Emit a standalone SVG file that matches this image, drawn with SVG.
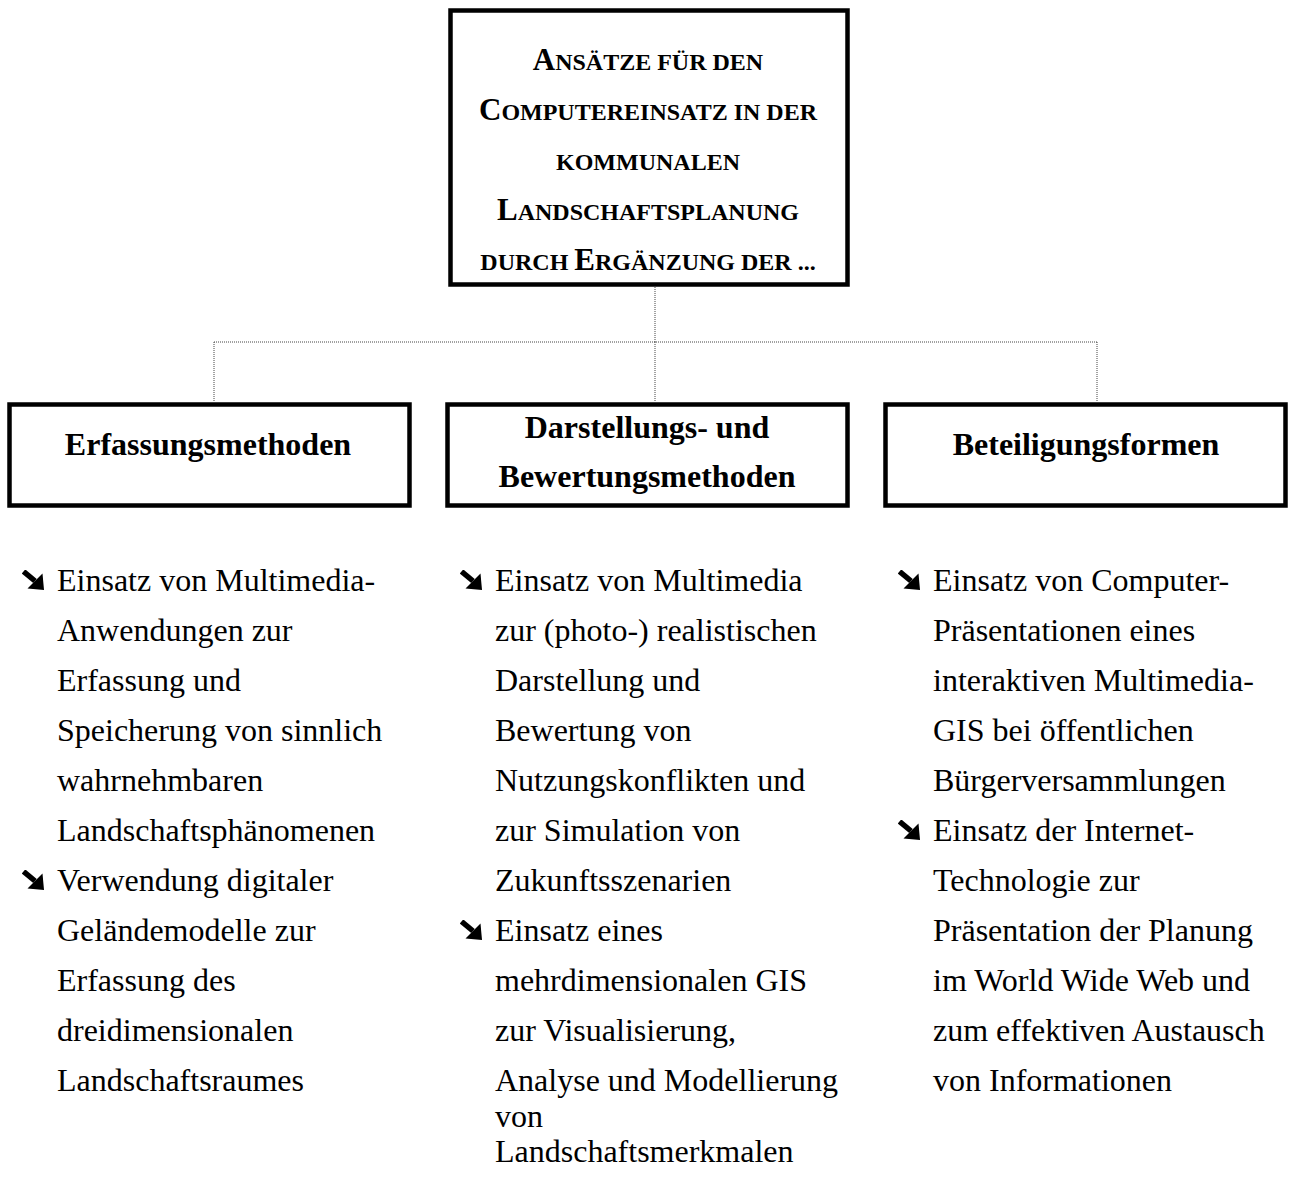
<svg xmlns="http://www.w3.org/2000/svg" xmlns:xlink="http://www.w3.org/1999/xlink" width="1294" height="1191" viewBox="0 0 1294 1191">
<style>
.box{fill:#fff;stroke:#000;stroke-width:4.5}
.conn{fill:none;stroke:#444;stroke-width:1;stroke-dasharray:1 1}
.title{font-family:"Liberation Serif","Times New Roman",serif;font-weight:bold;fill:#000}
.head{font-family:"Liberation Serif","Times New Roman",serif;font-weight:bold;font-size:32px;fill:#000;text-anchor:middle}
.body{font-family:"Liberation Serif","Times New Roman",serif;font-size:32px;fill:#000}
.sc{font-size:24px}
.cap{font-size:31px}
</style>
<defs>
<symbol id="arr" viewBox="0 0 22 20" width="22" height="20">
<line x1="1.5" y1="1.5" x2="13" y2="11" stroke="#000" stroke-width="5.5"/>
<polygon points="22,20 5.5,18.5 20.5,3.5" fill="#000"/>
</symbol>
</defs>
<rect width="1294" height="1191" fill="#fff"/>
<g id="connectors">
<line class="conn" x1="655" y1="287" x2="655" y2="342"/>
<line class="conn" x1="214" y1="342" x2="1097" y2="342"/>
<line class="conn" x1="214" y1="342" x2="214" y2="402"/>
<line class="conn" x1="655" y1="342" x2="655" y2="402"/>
<line class="conn" x1="1097" y1="342" x2="1097" y2="402"/>
</g>
<g id="node-top">
<rect class="box" x="450.5" y="10.5" width="397" height="274"/>
<text class="title" text-anchor="middle" x="648" y="70"><tspan class="cap">A</tspan><tspan class="sc">NSÄTZE FÜR DEN</tspan></text>
<text class="title" text-anchor="middle" x="648" y="120"><tspan class="cap">C</tspan><tspan class="sc">OMPUTEREINSATZ IN DER</tspan></text>
<text class="title" text-anchor="middle" x="648" y="170"><tspan class="sc">KOMMUNALEN</tspan></text>
<text class="title" text-anchor="middle" x="648" y="220"><tspan class="cap">L</tspan><tspan class="sc">ANDSCHAFTSPLANUNG</tspan></text>
<text class="title" text-anchor="middle" x="648" y="270"><tspan class="sc">DURCH </tspan><tspan class="cap">E</tspan><tspan class="sc">RGÄNZUNG DER ...</tspan></text>
</g>
<g id="node-erfassung">
<rect class="box" x="9.5" y="404.5" width="400" height="101"/>
<text class="head" x="208" y="455">Erfassungsmethoden</text>
</g>
<g id="node-darstellung">
<rect class="box" x="447.5" y="404.5" width="400" height="101"/>
<text class="head" x="647" y="438">Darstellungs- und</text>
<text class="head" x="647" y="487">Bewertungsmethoden</text>
</g>
<g id="node-beteiligung">
<rect class="box" x="885.5" y="404.5" width="400" height="101"/>
<text class="head" x="1086" y="455">Beteiligungsformen</text>
</g>
<g id="list-erfassung">
<use xlink:href="#arr" x="22" y="570"/>
<use xlink:href="#arr" x="22" y="870"/>
<text class="body" x="57" y="591">Einsatz von Multimedia-</text>
<text class="body" x="57" y="641">Anwendungen zur</text>
<text class="body" x="57" y="691">Erfassung und</text>
<text class="body" x="57" y="741">Speicherung von sinnlich</text>
<text class="body" x="57" y="791">wahrnehmbaren</text>
<text class="body" x="57" y="841">Landschaftsphänomenen</text>
<text class="body" x="57" y="891">Verwendung digitaler</text>
<text class="body" x="57" y="941">Geländemodelle zur</text>
<text class="body" x="57" y="991">Erfassung des</text>
<text class="body" x="57" y="1041">dreidimensionalen</text>
<text class="body" x="57" y="1091">Landschaftsraumes</text>
</g>
<g id="list-darstellung">
<use xlink:href="#arr" x="460" y="570"/>
<use xlink:href="#arr" x="460" y="920"/>
<text class="body" x="495" y="591">Einsatz von Multimedia</text>
<text class="body" x="495" y="641">zur (photo-) realistischen</text>
<text class="body" x="495" y="691">Darstellung und</text>
<text class="body" x="495" y="741">Bewertung von</text>
<text class="body" x="495" y="791">Nutzungskonflikten und</text>
<text class="body" x="495" y="841">zur Simulation von</text>
<text class="body" x="495" y="891">Zukunftsszenarien</text>
<text class="body" x="495" y="941">Einsatz eines</text>
<text class="body" x="495" y="991">mehrdimensionalen GIS</text>
<text class="body" x="495" y="1041">zur Visualisierung,</text>
<text class="body" x="495" y="1091">Analyse und Modellierung</text>
<text class="body" x="495" y="1127">von</text>
<text class="body" x="495" y="1162">Landschaftsmerkmalen</text>
</g>
<g id="list-beteiligung">
<use xlink:href="#arr" x="898" y="570"/>
<use xlink:href="#arr" x="898" y="820"/>
<text class="body" x="933" y="591">Einsatz von Computer-</text>
<text class="body" x="933" y="641">Präsentationen eines</text>
<text class="body" x="933" y="691">interaktiven Multimedia-</text>
<text class="body" x="933" y="741">GIS bei öffentlichen</text>
<text class="body" x="933" y="791">Bürgerversammlungen</text>
<text class="body" x="933" y="841">Einsatz der Internet-</text>
<text class="body" x="933" y="891">Technologie zur</text>
<text class="body" x="933" y="941">Präsentation der Planung</text>
<text class="body" x="933" y="991">im World Wide Web und</text>
<text class="body" x="933" y="1041">zum effektiven Austausch</text>
<text class="body" x="933" y="1091">von Informationen</text>
</g>
</svg>
